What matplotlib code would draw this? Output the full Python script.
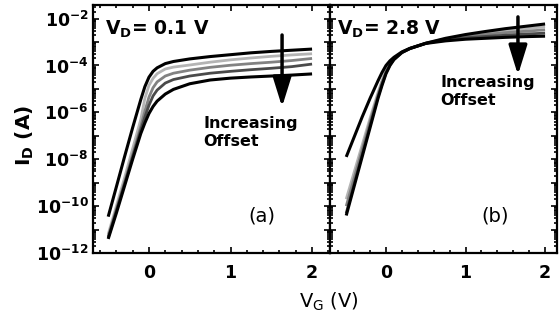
import numpy as np
import matplotlib
matplotlib.use("Agg")
import matplotlib.pyplot as plt
from matplotlib.ticker import FixedLocator, FixedFormatter, NullFormatter

plt.rcParams['font.family'] = ['DejaVu Sans']
plt.rcParams['mathtext.fontset'] = 'custom'
plt.rcParams['mathtext.rm'] = 'DejaVu Sans:bold'
plt.rcParams['mathtext.it'] = 'DejaVu Sans:bold'
plt.rcParams['mathtext.bf'] = 'DejaVu Sans:bold'
plt.rcParams['mathtext.sf'] = 'DejaVu Sans'

# ---- data (log10 of drain current, A) ----
vg = [-0.5, -0.4, -0.3, -0.2, -0.1, -0.05, 0.0, 0.05, 0.1, 0.2, 0.3, 0.5, 0.75, 1.0, 1.25, 1.5, 1.75, 2.0]

# V_D = 0.1 V
a_c1 = [-10.45, -9.18, -7.9, -6.65, -5.45, -4.9, -4.5, -4.25, -4.1, -3.92, -3.83, -3.72, -3.62, -3.54, -3.46, -3.4, -3.35, -3.3]
a_c2 = [-11.2, -10.0, -8.8, -7.55, -6.3, -5.4, -4.85, -4.55, -4.35, -4.15, -4.07, -3.98, -3.86, -3.76, -3.68, -3.61, -3.55, -3.5]
a_c3 = [-11.3, -10.15, -9.0, -7.8, -6.6, -5.95, -5.35, -4.95, -4.7, -4.45, -4.33, -4.2, -4.08, -3.99, -3.92, -3.86, -3.79, -3.7]
a_c4 = [-11.35, -10.2, -9.05, -7.9, -6.75, -6.2, -5.7, -5.3, -5.05, -4.75, -4.6, -4.45, -4.33, -4.25, -4.18, -4.12, -4.05, -3.94]
a_c5 = [-11.4, -10.3, -9.15, -8.0, -6.9, -6.45, -6.05, -5.75, -5.52, -5.22, -5.02, -4.78, -4.62, -4.54, -4.49, -4.45, -4.41, -4.36]

# V_D = 2.8 V
b_c1 = [-7.9, -7.05, -6.2, -5.4, -4.65, -4.3, -4.0, -3.8, -3.65, -3.42, -3.27, -3.05, -2.84, -2.68, -2.55, -2.43, -2.33, -2.23]
b_c2 = [-9.7, -8.55, -7.4, -6.25, -5.15, -4.65, -4.22, -3.92, -3.7, -3.43, -3.27, -3.05, -2.86, -2.72, -2.62, -2.52, -2.43, -2.35]
b_c3 = [-10.0, -8.8, -7.6, -6.4, -5.25, -4.72, -4.27, -3.95, -3.72, -3.44, -3.27, -3.05, -2.88, -2.77, -2.68, -2.6, -2.54, -2.48]
b_c4 = [-10.3, -9.05, -7.8, -6.55, -5.33, -4.8, -4.32, -3.98, -3.74, -3.45, -3.28, -3.06, -2.9, -2.82, -2.76, -2.71, -2.66, -2.62]
b_c5 = [-10.4, -9.15, -7.9, -6.65, -5.4, -4.85, -4.35, -4.0, -3.75, -3.45, -3.28, -3.06, -2.95, -2.88, -2.84, -2.8, -2.77, -2.75]

colors = ['#000000', '#b4b4b4', '#828282', '#4a4a4a', '#000000']
widths = [2.2, 2.0, 2.0, 2.0, 2.2]

ytick_exp = [-12, -10, -8, -6, -4, -2]
xticks = [0, 1, 2]

fig = plt.figure(figsize=(5.59, 3.24), dpi=100)
W, H = 559.0, 324.0
bottom = 1 - 253 / H
height = 248 / H
axL = fig.add_axes([92.7 / W, bottom, (330 - 92.7) / W, height])
axR = fig.add_axes([330 / W, bottom, (557 - 330) / W, height])

for ax, curves in ((axL, [a_c1, a_c2, a_c3, a_c4, a_c5]), (axR, [b_c1, b_c2, b_c3, b_c4, b_c5])):
    order = [1, 2, 3, 0, 4]
    for i in order:
        ax.plot(vg, 10.0 ** np.array(curves[i]), color=colors[i], lw=widths[i],
                solid_capstyle='butt', solid_joinstyle='round')
    ax.set_yscale('log')
    ax.set_ylim(1e-12, 10 ** -1.42)
    ax.yaxis.set_major_locator(FixedLocator([10.0 ** e for e in range(-12, -1)]))
    minors = [m * 10.0 ** e for e in range(-12, -1) for m in range(2, 10)]
    ax.yaxis.set_minor_locator(FixedLocator(minors))
    ax.yaxis.set_minor_formatter(NullFormatter())
    ax.xaxis.set_major_locator(FixedLocator(xticks))
    ax.xaxis.set_minor_locator(FixedLocator([-0.6, -0.4, -0.2, 0.2, 0.4, 0.6, 0.8, 1.2, 1.4, 1.6, 1.8, 2.2]))
    ax.tick_params(which='both', direction='in', top=True, right=True, width=1.2)
    ax.tick_params(which='major', length=4.5)
    ax.tick_params(which='minor', length=2.5)
    ax.tick_params(axis='x', labelsize=12.5, pad=8)
    for s in ax.spines.values():
        s.set_linewidth(1.6)

axL.set_xlim(-0.69, 2.22)
axR.set_xlim(-0.704, 2.15)

ylabels = []
for e in range(-12, -1):
    ylabels.append(r'$10^{%d}$' % e if e in ytick_exp else '')
axL.yaxis.set_major_formatter(FixedFormatter(ylabels))
axL.tick_params(axis='y', labelsize=12.5, pad=3)
axR.tick_params(axis='y', which='both', labelleft=False)
axL.set_xticklabels(['0', '1', '2'], fontweight='bold')
axR.set_xticklabels(['0', '1', '2'], fontweight='bold')

# annotations
axL.text(0.052, 0.879, r'V$_\mathrm{D}$= 0.1 V', transform=axL.transAxes,
         fontsize=13.5, fontweight='bold', va='baseline', ha='left')
axR.text(0.03, 0.879, r'V$_\mathrm{D}$= 2.8 V', transform=axR.transAxes,
         fontsize=13.5, fontweight='bold', va='baseline', ha='left')

axL.text(0.465, 0.552, 'Increasing\nOffset', transform=axL.transAxes,
         fontsize=11.5, fontweight='bold', va='top', ha='left', linespacing=1.25)
axR.text(0.485, 0.718, 'Increasing\nOffset', transform=axR.transAxes,
         fontsize=11.5, fontweight='bold', va='top', ha='left', linespacing=1.25)

axL.text(0.715, 0.149, '(a)', transform=axL.transAxes, fontsize=14, ha='center', va='center')
axR.text(0.727, 0.149, '(b)', transform=axR.transAxes, fontsize=14, ha='center', va='center')

arrow_kw = dict(arrowstyle='-|>,head_width=0.28,head_length=0.9', lw=2.5, color='k',
                mutation_scale=20, shrinkA=0, shrinkB=0)
axL.annotate('', xy=(0.798, 0.589), xytext=(0.798, 0.879), xycoords='axes fraction',
             textcoords='axes fraction', arrowprops=arrow_kw)
axR.annotate('', xy=(0.828, 0.718), xytext=(0.828, 0.952), xycoords='axes fraction',
             textcoords='axes fraction', arrowprops=arrow_kw)

fig.text(25 / W, 1 - 135 / H, r'I$_\mathrm{D}$ (A)', rotation=90, fontsize=14.5,
         fontweight='bold', ha='center', va='center')
fig.text(329 / W, 1 - 302 / H, r'V$_\mathsf{G}$ (V)', fontsize=14,
         ha='center', va='center')

fig.savefig('out.png', dpi=100)
